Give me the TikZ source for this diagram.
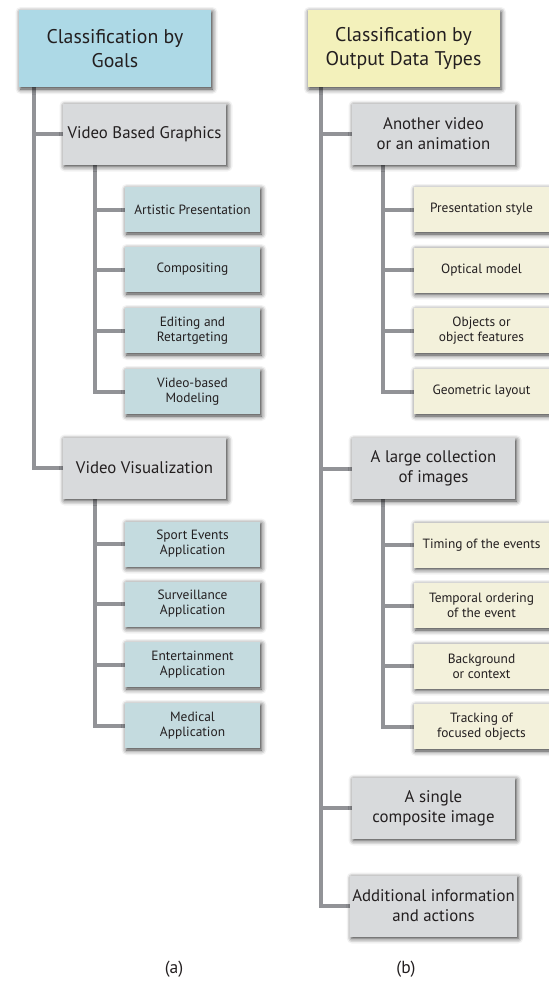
\documentclass[tikz,border=0pt]{standalone}
\usepackage{fontspec}
\setmainfont{PT Sans}
\usetikzlibrary{shadows.blur,backgrounds}
\definecolor{rootblue}{HTML}{ADD9E6}
\definecolor{leafblue}{HTML}{C4DBDF}
\definecolor{midgray}{HTML}{D8DADC}
\definecolor{rootyellow}{HTML}{F3F1BB}
\definecolor{leafyellow}{HTML}{F3F1DB}
\definecolor{linegray}{HTML}{929397}
\definecolor{txt}{HTML}{231F20}
\tikzset{
  box/.style={rectangle, draw=none, align=center, text=txt, inner sep=2pt,
    blur shadow={shadow xshift=1.5pt, shadow yshift=-2pt, shadow blur radius=5pt, shadow opacity=80}},
  rootbox/.style={box, minimum width=192pt, minimum height=77pt, font=\fontsize{19.8}{24}\selectfont},
  midbox/.style={box, minimum width=163pt, minimum height=61pt, fill=midgray, font=\fontsize{16.8}{20}\selectfont},
  leafbox/.style={box, minimum width=135pt, minimum height=45pt, font=\fontsize{13.4}{15}\selectfont},
  conn/.style={draw=linegray, line width=4pt, line join=miter},
  captext/.style={text=txt, font=\fontsize{17.5}{20}\selectfont}
}
\begin{document}
\begin{tikzpicture}[x=1pt,y=-1pt]
\useasboundingbox (0,0) rectangle (549,983);
% ---------- left tree
\node[rootbox, fill=rootblue] (rl) at (115,48.5) {Classification by\\Goals};
\node[midbox] (vbg) at (144.5,134) {Video Based Graphics};
\node[midbox] (vv) at (144.5,468) {Video Visualization};
\node[leafbox, fill=leafblue] (l1) at (192.5,209.5) {Artistic Presentation};
\node[leafbox, fill=leafblue] (l2) at (192.5,269.5) {Compositing};
\node[leafbox, fill=leafblue] (l3) at (192.5,330.5) {Editing and\\Retartgeting};
\node[leafbox, fill=leafblue] (l4) at (192.5,391.5) {Video-based\\Modeling};
\node[leafbox, fill=leafblue] (l5) at (192.5,544) {Sport Events\\Application};
\node[leafbox, fill=leafblue] (l6) at (192.5,604) {Surveillance\\Application};
\node[leafbox, fill=leafblue] (l7) at (192.5,664.5) {Entertainment\\Application};
\node[leafbox, fill=leafblue] (l8) at (192.5,725.5) {Medical\\Application};
% ---------- right tree
\node[rootbox, fill=rootyellow] (rr) at (403.5,48.5) {Classification by\\Output Data Types};
\node[midbox] (av) at (433.5,134) {Another video\\or an animation};
\node[midbox] (lc) at (433.5,468.5) {A large collection\\of images};
\node[midbox] (sc) at (433.5,808) {A single\\composite image};
\node[midbox] (ai) at (433.5,906) {Additional information\\and actions};
\node[leafbox, fill=leafyellow] (r1) at (481.5,209.5) {Presentation style};
\node[leafbox, fill=leafyellow] (r2) at (481.5,270) {Optical model};
\node[leafbox, fill=leafyellow] (r3) at (481.5,330.5) {Objects or\\object features};
\node[leafbox, fill=leafyellow] (r4) at (481.5,391.5) {Geometric layout};
\node[leafbox, fill=leafyellow] (r5) at (481.5,545) {Timing of the events};
\node[leafbox, fill=leafyellow] (r6) at (481.5,605.5) {Temporal ordering\\of the event};
\node[leafbox, fill=leafyellow] (r7) at (481.5,666) {Background\\or context};
\node[leafbox, fill=leafyellow] (r8) at (481.5,726.5) {Tracking of\\focused objects};
% captions
\node[captext] (ca) at (174,969) {(a)};
\node[captext] (cb) at (406,969) {(b)};
% ---------- connectors
\begin{pgfonlayer}{background}
\foreach \t in {vbg,vv} \draw[conn] ([xshift=15pt]rl.south west) |- (\t.west);
\foreach \t in {l1,l2,l3,l4} \draw[conn] ([xshift=32pt]vbg.south west) |- (\t.west);
\foreach \t in {l5,l6,l7,l8} \draw[conn] ([xshift=32pt]vv.south west) |- (\t.west);
\foreach \t in {av,lc,sc,ai} \draw[conn] ([xshift=14pt]rr.south west) |- (\t.west);
\foreach \t in {r1,r2,r3,r4} \draw[conn] ([xshift=31pt]av.south west) |- (\t.west);
\foreach \t in {r5,r6,r7,r8} \draw[conn] ([xshift=31pt]lc.south west) |- (\t.west);
\end{pgfonlayer}
\end{tikzpicture}
\end{document}
